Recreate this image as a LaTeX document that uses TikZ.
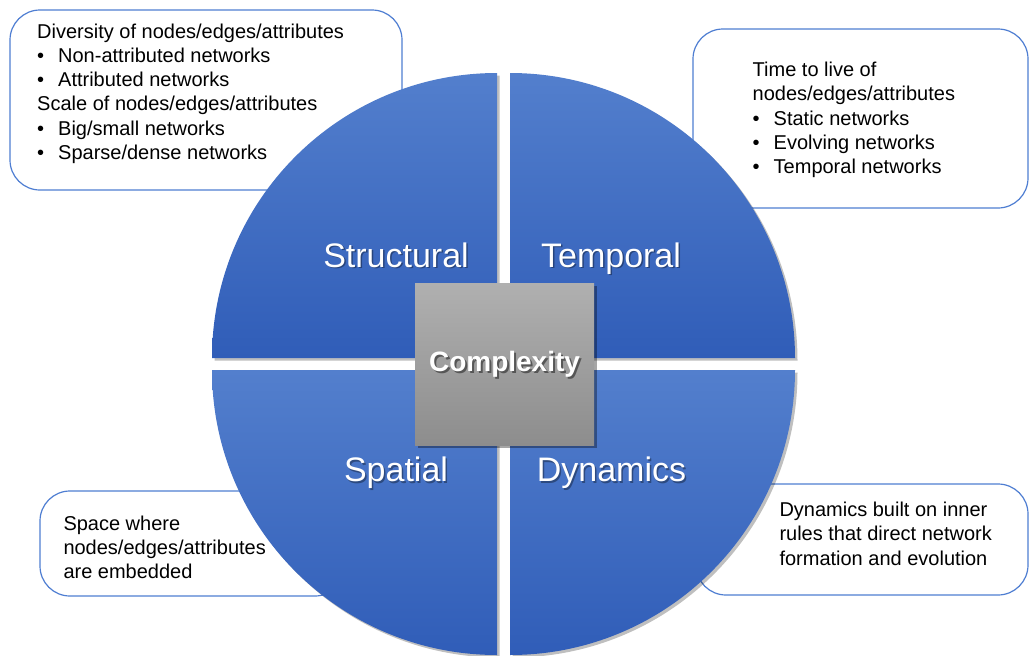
\documentclass[tikz,border=0pt]{standalone}
\usepackage{fontspec}
\setmainfont{Liberation Sans}
\usetikzlibrary{shadows}
\definecolor{boxblue}{HTML}{4F7ED2}
\definecolor{secTop}{HTML}{537FCD}
\definecolor{secBot}{HTML}{305DB8}
\definecolor{grayTop}{HTML}{B0B0B0}
\definecolor{grayBot}{HTML}{8D8D8D}
\newcommand{\bulmark}{\makebox[21pt][l]{•}}
\tikzset{
  infobox/.style={draw=boxblue, line width=1.2pt, fill=white, rounded corners=30pt},
  infotext/.style={anchor=north west, inner sep=0pt, align=left,
    font=\fontsize{20}{24.2}\selectfont, text=black},
  sector/.style={top color=secTop, bottom color=secBot, draw=none,
    drop shadow={shadow xshift=2.5pt, shadow yshift=-2.5pt, opacity=0.25, fill=black}},
  seclabel/.style={anchor=base, inner sep=0pt, text=white, font=\fontsize{34}{40}\selectfont},
  secshade/.style={anchor=base, inner sep=0pt, text=black, opacity=0.35, font=\fontsize{34}{40}\selectfont},
  cbox/.style={top color=grayTop, bottom color=grayBot, draw=none, inner sep=0pt,
    minimum width=179pt, minimum height=162pt,
    drop shadow={shadow xshift=3pt, shadow yshift=-3pt, opacity=0.35, fill=black}},
  clabel/.style={anchor=base, inner sep=0pt, text=white, font=\fontsize{28}{32}\selectfont\bfseries},
  cshade/.style={anchor=base, inner sep=0pt, text=black, opacity=0.45, font=\fontsize{28}{32}\selectfont\bfseries},
}
\begin{document}
\begin{tikzpicture}[x=1pt,y=-1pt]
\useasboundingbox[fill=white] (0,0) rectangle (1029,656);

% information boxes (behind the circle)
\draw[infobox] (10,10) rectangle (402,190);
\draw[infobox] (693,29) rectangle (1028,208);
\draw[infobox] (40,491) rectangle (345,596);
\draw[infobox] (696,484) rectangle (1028,595);

\node[infotext] (structtext) at (37,23.7) {Diversity of nodes/edges/attributes\\
\bulmark Non-attributed networks\\
\bulmark Attributed networks\\
Scale of nodes/edges/attributes\\
\bulmark Big/small networks\\
\bulmark Sparse/dense networks};

\node[infotext] (temptext) at (752.5,62) {Time to live of\\
nodes/edges/attributes\\
\bulmark Static networks\\
\bulmark Evolving networks\\
\bulmark Temporal networks};

\node[infotext] (spattext) at (63.3,515.7) {Space where\\
nodes/edges/attributes\\
are embedded};

\node[infotext] (dyntext) at (779.3,502.1) {Dynamics built on inner\\
rules that direct network\\
formation and evolution};

% four quarter sectors
\path[sector] (497,358) -- (212,358) arc[start angle=180, end angle=90, radius=285pt] -- cycle;
\path[sector] (510,358) -- (510,73) arc[start angle=90, end angle=0, radius=285pt] -- cycle;
\path[sector] (497,370) -- (212,370) arc[start angle=180, end angle=270, radius=285pt] -- cycle;
\path[sector] (510,370) -- (510,655) arc[start angle=270, end angle=360, radius=285pt] -- cycle;

% sector labels
\node[secshade] (structsh) at (397.5,268.5) {Structural};
\node[seclabel] (structural) at (396,267) {Structural};
\node[secshade] (tempsh) at (612.5,268.5) {Temporal};
\node[seclabel] (temporal) at (611,267) {Temporal};
\node[secshade] (spatsh) at (397.5,483) {Spatial};
\node[seclabel] (spatial) at (396,481.5) {Spatial};
\node[secshade] (dynsh) at (613,483) {Dynamics};
\node[seclabel] (dynamics) at (611.5,481.5) {Dynamics};

% centre square
\node[cbox] (centre) at (504.5,364) {};
\node[cshade] (complexsh) at (506.5,373.5) {Complexity};
\node[clabel] (complexity) at (504.5,371.5) {Complexity};
\end{tikzpicture}
\end{document}
